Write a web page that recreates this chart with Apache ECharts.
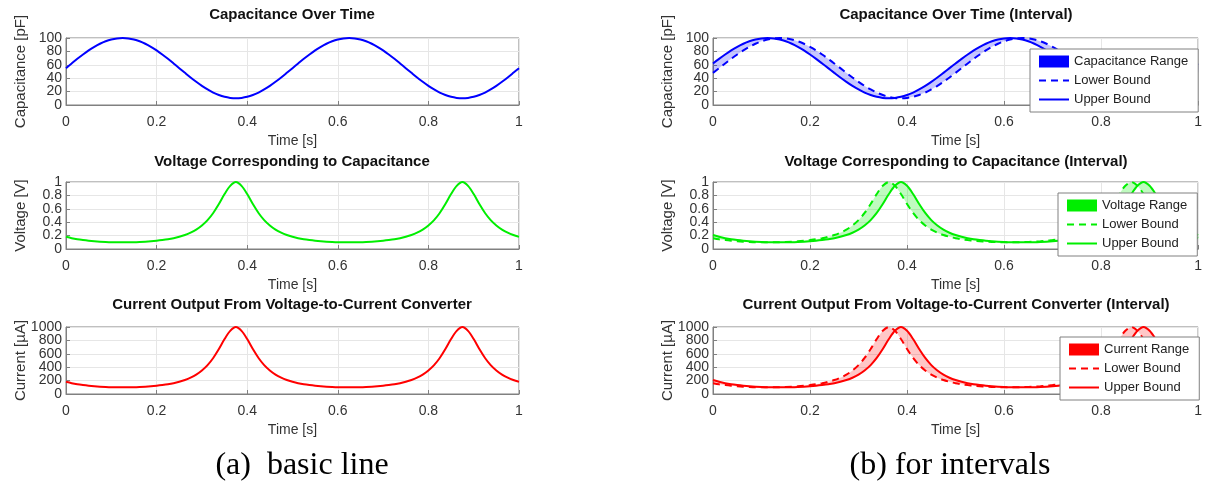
<!DOCTYPE html>
<html>
<head>
<meta charset="utf-8">
<title>Capacitance / Voltage / Current</title>
<script src="https://cdn.jsdelivr.net/npm/echarts@6/dist/echarts.min.js"></script>
<style>
  html, body { margin: 0; padding: 0; background: #fff; }
  #main { width: 1205px; height: 494px; }
</style>
</head>
<body>
<div id="main"></div>
<script>
// time samples [s]
var time = [0, 0.0125, 0.025, 0.0375, 0.05, 0.0625, 0.075, 0.0875, 0.1, 0.1125, 0.125, 0.1375, 0.15, 0.1625, 0.175, 0.1875, 0.2, 0.2125, 0.225, 0.2375,
  0.25, 0.2625, 0.275, 0.2875, 0.3, 0.3125, 0.325, 0.3375, 0.35, 0.3625, 0.375, 0.3875, 0.4, 0.4125, 0.425, 0.4375, 0.45, 0.4625, 0.475, 0.4875,
  0.5, 0.5125, 0.525, 0.5375, 0.55, 0.5625, 0.575, 0.5875, 0.6, 0.6125, 0.625, 0.6375, 0.65, 0.6625, 0.675, 0.6875, 0.7, 0.7125, 0.725, 0.7375,
  0.75, 0.7625, 0.775, 0.7875, 0.8, 0.8125, 0.825, 0.8375, 0.85, 0.8625, 0.875, 0.8875, 0.9, 0.9125, 0.925, 0.9375, 0.95, 0.9625, 0.975, 0.9875, 1];

// tick labels
var timeTicks = [0, 0.2, 0.4, 0.6, 0.8, 1];
var capTicks = [0, 20, 40, 60, 80, 100];
var voltTicks = [0, 0.2, 0.4, 0.6, 0.8, 1];
var currTicks = [0, 200, 400, 600, 800, 1000];

// (a) basic line
var capacitance = [55, 62.0, 68.9, 75.4, 81.5, 86.8, 91.4, 95.1, 97.8, 99.4, 100, 99.4, 97.8, 95.1, 91.4, 86.8, 81.5, 75.4, 68.9, 62.0, 55,
  48.0, 41.1, 34.6, 28.5, 23.2, 18.6, 14.9, 12.2, 10.6, 10, 10.6, 12.2, 14.9, 18.6, 23.2, 28.5, 34.6, 41.1, 48.0, 55,
  62.0, 68.9, 75.4, 81.5, 86.8, 91.4, 95.1, 97.8, 99.4, 100, 99.4, 97.8, 95.1, 91.4, 86.8, 81.5, 75.4, 68.9, 62.0, 55,
  48.0, 41.1, 34.6, 28.5, 23.2, 18.6, 14.9, 12.2, 10.6, 10, 10.6, 12.2, 14.9, 18.6, 23.2, 28.5, 34.6, 41.1, 48.0, 55];
var voltage = [0.182, 0.161, 0.145, 0.133, 0.123, 0.115, 0.109, 0.105, 0.102, 0.101, 0.100, 0.101, 0.102, 0.105, 0.109, 0.115, 0.123, 0.133, 0.145, 0.161, 0.182,
  0.208, 0.243, 0.289, 0.351, 0.431, 0.538, 0.671, 0.820, 0.943, 1.000, 0.943, 0.820, 0.671, 0.538, 0.431, 0.351, 0.289, 0.243, 0.208, 0.182,
  0.161, 0.145, 0.133, 0.123, 0.115, 0.109, 0.105, 0.102, 0.101, 0.100, 0.101, 0.102, 0.105, 0.109, 0.115, 0.123, 0.133, 0.145, 0.161, 0.182,
  0.208, 0.243, 0.289, 0.351, 0.431, 0.538, 0.671, 0.820, 0.943, 1.000, 0.943, 0.820, 0.671, 0.538, 0.431, 0.351, 0.289, 0.243, 0.208, 0.182];
var current = [182, 161, 145, 133, 123, 115, 109, 105, 102, 101, 100, 101, 102, 105, 109, 115, 123, 133, 145, 161, 182,
  208, 243, 289, 351, 431, 538, 671, 820, 943, 1000, 943, 820, 671, 538, 431, 351, 289, 243, 208, 182,
  161, 145, 133, 123, 115, 109, 105, 102, 101, 100, 101, 102, 105, 109, 115, 123, 133, 145, 161, 182,
  208, 243, 289, 351, 431, 538, 671, 820, 943, 1000, 943, 820, 671, 538, 431, 351, 289, 243, 208, 182];

// (b) interval bounds
var capLower = [48.0, 55, 62.0, 68.9, 75.4, 81.5, 86.8, 91.4, 95.1, 97.8, 99.4, 100, 99.4, 97.8, 95.1, 91.4, 86.8, 81.5, 75.4, 68.9, 62.0, 55,
  48.0, 41.1, 34.6, 28.5, 23.2, 18.6, 14.9, 12.2, 10.6, 10, 10.6, 12.2, 14.9, 18.6, 23.2, 28.5, 34.6, 41.1, 48.0, 55,
  62.0, 68.9, 75.4, 81.5, 86.8, 91.4, 95.1, 97.8, 99.4, 100, 99.4, 97.8, 95.1, 91.4, 86.8, 81.5, 75.4, 68.9, 62.0, 55,
  48.0, 41.1, 34.6, 28.5, 23.2, 18.6, 14.9, 12.2, 10.6, 10, 10.6, 12.2, 14.9, 18.6, 23.2, 28.5, 34.6, 41.1, 48.0];
var capUpper = [62.0, 68.9, 75.4, 81.5, 86.8, 91.4, 95.1, 97.8, 99.4, 100, 99.4, 97.8, 95.1, 91.4, 86.8, 81.5, 75.4, 68.9, 62.0, 55,
  48.0, 41.1, 34.6, 28.5, 23.2, 18.6, 14.9, 12.2, 10.6, 10, 10.6, 12.2, 14.9, 18.6, 23.2, 28.5, 34.6, 41.1, 48.0, 55,
  62.0, 68.9, 75.4, 81.5, 86.8, 91.4, 95.1, 97.8, 99.4, 100, 99.4, 97.8, 95.1, 91.4, 86.8, 81.5, 75.4, 68.9, 62.0, 55,
  48.0, 41.1, 34.6, 28.5, 23.2, 18.6, 14.9, 12.2, 10.6, 10, 10.6, 12.2, 14.9, 18.6, 23.2, 28.5, 34.6, 41.1, 48.0, 55, 62.0];
var voltLower = [0.161, 0.145, 0.133, 0.123, 0.115, 0.109, 0.105, 0.102, 0.101, 0.100, 0.101, 0.102, 0.105, 0.109, 0.115, 0.123, 0.133, 0.145, 0.161, 0.182,
  0.208, 0.243, 0.289, 0.351, 0.431, 0.538, 0.671, 0.820, 0.943, 1.000, 0.943, 0.820, 0.671, 0.538, 0.431, 0.351, 0.289, 0.243, 0.208, 0.182,
  0.161, 0.145, 0.133, 0.123, 0.115, 0.109, 0.105, 0.102, 0.101, 0.100, 0.101, 0.102, 0.105, 0.109, 0.115, 0.123, 0.133, 0.145, 0.161, 0.182,
  0.208, 0.243, 0.289, 0.351, 0.431, 0.538, 0.671, 0.820, 0.943, 1.000, 0.943, 0.820, 0.671, 0.538, 0.431, 0.351, 0.289, 0.243, 0.208, 0.182, 0.161];
var voltUpper = [0.208, 0.182, 0.161, 0.145, 0.133, 0.123, 0.115, 0.109, 0.105, 0.102, 0.101, 0.100, 0.101, 0.102, 0.105, 0.109, 0.115, 0.123, 0.133, 0.145, 0.161, 0.182,
  0.208, 0.243, 0.289, 0.351, 0.431, 0.538, 0.671, 0.820, 0.943, 1.000, 0.943, 0.820, 0.671, 0.538, 0.431, 0.351, 0.289, 0.243, 0.208, 0.182,
  0.161, 0.145, 0.133, 0.123, 0.115, 0.109, 0.105, 0.102, 0.101, 0.100, 0.101, 0.102, 0.105, 0.109, 0.115, 0.123, 0.133, 0.145, 0.161, 0.182,
  0.208, 0.243, 0.289, 0.351, 0.431, 0.538, 0.671, 0.820, 0.943, 1.000, 0.943, 0.820, 0.671, 0.538, 0.431, 0.351, 0.289, 0.243, 0.208];
var currLower = [161, 145, 133, 123, 115, 109, 105, 102, 101, 100, 101, 102, 105, 109, 115, 123, 133, 145, 161, 182,
  208, 243, 289, 351, 431, 538, 671, 820, 943, 1000, 943, 820, 671, 538, 431, 351, 289, 243, 208, 182,
  161, 145, 133, 123, 115, 109, 105, 102, 101, 100, 101, 102, 105, 109, 115, 123, 133, 145, 161, 182,
  208, 243, 289, 351, 431, 538, 671, 820, 943, 1000, 943, 820, 671, 538, 431, 351, 289, 243, 208, 182, 161];
var currUpper = [208, 182, 161, 145, 133, 123, 115, 109, 105, 102, 101, 100, 101, 102, 105, 109, 115, 123, 133, 145, 161, 182,
  208, 243, 289, 351, 431, 538, 671, 820, 943, 1000, 943, 820, 671, 538, 431, 351, 289, 243, 208, 182,
  161, 145, 133, 123, 115, 109, 105, 102, 101, 100, 101, 102, 105, 109, 115, 123, 133, 145, 161, 182,
  208, 243, 289, 351, 431, 538, 671, 820, 943, 1000, 943, 820, 671, 538, 431, 351, 289, 243, 208];

var BLUE = '#0000ff', GREEN = '#00ee00', RED = '#ff0000';
var FONT = 'Liberation Sans, Arial, sans-serif';

// panel geometry
var cols = [{ left: 66, width: 453 }, { left: 713, width: 487 }];
var rows = [38, 182, 327];
var rowH = 67;

var panels = [
  { yName: 'Capacitance [pF]', ticks: capTicks },
  { yName: 'Voltage [V]', ticks: voltTicks },
  { yName: 'Current [\u00b5A]', ticks: currTicks }
];

function pairs(ys) {
  return time.map(function (t, i) { return [t, ys[i]]; });
}
function plain(v) { return String(+(+v).toFixed(6)); }
function pick(arr, odd) { return arr.filter(function (v, i) { return i % 2 === (odd ? 1 : 0); }); }

var labelStyle = { fontFamily: FONT, fontSize: 14, color: '#333' };
var grids = [], xAxes = [], yAxes = [], yLabelAxes = [];
cols.forEach(function (c) {
  rows.forEach(function (top, r) {
    var gi = grids.length;
    var p = panels[r];
    var tk = p.ticks, max = tk[tk.length - 1], step = tk[1] - tk[0];
    grids.push({ left: c.left, width: c.width, top: top, height: rowH,
      show: true, borderColor: '#808080', borderWidth: 1, backgroundColor: '#fff' });
    xAxes.push({
      type: 'value', gridIndex: gi, min: 0, max: 1, interval: 0.2,
      name: 'Time [s]', nameLocation: 'middle', nameGap: 29,
      nameTextStyle: { fontFamily: FONT, fontSize: 14, color: '#333' },
      axisLine: { lineStyle: { color: '#808080' } },
      axisTick: { inside: true, length: 4, lineStyle: { color: '#808080' } },
      axisLabel: Object.assign({ margin: 10, formatter: plain, customValues: timeTicks,
        showMinLabel: true, showMaxLabel: true }, labelStyle),
      splitLine: { show: true, lineStyle: { color: '#e6e6e6' } }
    });
    // main axis: line, ticks, grid lines, every other label
    yAxes.push({
      type: 'value', gridIndex: gi, min: 0, max: max, interval: step,
      name: p.yName, nameLocation: 'middle', nameGap: 38,
      nameTextStyle: { fontFamily: FONT, fontSize: 15, color: '#333' },
      axisLine: { show: true, lineStyle: { color: '#808080' } },
      axisTick: { show: true, inside: true, length: 4, lineStyle: { color: '#808080' } },
      axisLabel: Object.assign({ margin: 4, formatter: plain, customValues: pick(tk, false),
        showMinLabel: true, showMaxLabel: true }, labelStyle),
      splitLine: { show: true, lineStyle: { color: '#e6e6e6' } }
    });
    // twin axis carrying the remaining labels (they sit too close for one axis)
    yLabelAxes.push({
      type: 'value', gridIndex: gi, min: 0, max: max, interval: step, position: 'left',
      axisLine: { show: false }, axisTick: { show: false }, splitLine: { show: false },
      axisLabel: Object.assign({ margin: 4, formatter: plain, customValues: pick(tk, true),
        showMinLabel: true, showMaxLabel: true }, labelStyle)
    });
  });
});
yAxes = yAxes.concat(yLabelAxes);

function lineSeries(name, gi, ys, color, dashed) {
  return {
    name: name, type: 'line', xAxisIndex: gi, yAxisIndex: gi,
    data: pairs(ys), symbol: 'none', smooth: 0.3, z: 3,
    color: color,
    lineStyle: { color: color, width: 2, type: dashed ? [7, 5] : 'solid' },
    emphasis: { disabled: true }
  };
}

// shaded band between the two bounds, drawn through the axis scales
function bandSeries(name, gi, lo, hi, color, fill) {
  return {
    name: name, type: 'custom', xAxisIndex: gi, yAxisIndex: gi,
    data: [[0, 0]], z: 2, color: color, itemStyle: { color: color },
    renderItem: function (params, api) {
      var pts = [];
      for (var i = 0; i < time.length; i++) pts.push(api.coord([time[i], hi[i]]));
      for (var j = time.length - 1; j >= 0; j--) pts.push(api.coord([time[j], lo[j]]));
      return { type: 'polygon', shape: { points: pts, smooth: 0.2 }, style: { fill: fill, stroke: null } };
    },
    emphasis: { disabled: true }
  };
}

var series = [
  lineSeries('Capacitance', 0, capacitance, BLUE, false),
  lineSeries('Voltage', 1, voltage, GREEN, false),
  lineSeries('Current', 2, current, RED, false),

  bandSeries('Capacitance Range', 3, capLower, capUpper, BLUE, 'rgba(0,0,255,0.22)'),
  lineSeries('Lower Bound', 3, capLower, BLUE, true),
  lineSeries('Upper Bound', 3, capUpper, BLUE, false),

  bandSeries('Voltage Range', 4, voltLower, voltUpper, GREEN, 'rgba(0,238,0,0.25)'),
  lineSeries('Lower Bound ', 4, voltLower, GREEN, true),
  lineSeries('Upper Bound ', 4, voltUpper, GREEN, false),

  bandSeries('Current Range', 5, currLower, currUpper, RED, 'rgba(255,0,0,0.22)'),
  lineSeries('Lower Bound  ', 5, currLower, RED, true),
  lineSeries('Upper Bound  ', 5, currUpper, RED, false)
];

function legendFor(rangeName, sfx, color, left, top) {
  return {
    orient: 'vertical', left: left, top: top, selectedMode: false,
    backgroundColor: '#fff', borderColor: '#808080', borderWidth: 1, borderRadius: 0,
    padding: [6, 10, 6, 8], itemGap: 6, itemWidth: 30, itemHeight: 12,
    textStyle: { fontFamily: FONT, fontSize: 13, color: '#222' },
    formatter: function (n) { return n.trim(); },
    data: [
      { name: rangeName, icon: 'rect', itemStyle: { color: color, opacity: 1 } },
      { name: 'Lower Bound' + sfx, itemStyle: { opacity: 0 } },
      { name: 'Upper Bound' + sfx, itemStyle: { opacity: 0 } }
    ],
    z: 10
  };
}

var titles = [
  ['Capacitance Over Time', 292, 15],
  ['Voltage Corresponding to Capacitance', 292, 162],
  ['Current Output From Voltage-to-Current Converter', 292, 305],
  ['Capacitance Over Time (Interval)', 956, 15],
  ['Voltage Corresponding to Capacitance (Interval)', 956, 162],
  ['Current Output From Voltage-to-Current Converter (Interval)', 956, 305]
];
var captions = [
  ['(a)  basic line', 302, 466],
  ['(b) for intervals', 950, 466]
];

var graphics = titles.map(function (t) {
  return { type: 'text', x: t[1], y: t[2], silent: true,
    style: { text: t[0], fill: '#111', font: 'bold 15px ' + FONT, textAlign: 'center', textVerticalAlign: 'middle' } };
}).concat(captions.map(function (t) {
  return { type: 'text', x: t[1], y: t[2], silent: true,
    style: { text: t[0], fill: '#000', font: '32px Liberation Serif, Times New Roman, serif', textAlign: 'center', textVerticalAlign: 'middle' } };
}));

var chart = echarts.init(document.getElementById('main'));
chart.setOption({
  animation: false,
  grid: grids,
  xAxis: xAxes,
  yAxis: yAxes,
  legend: [
    legendFor('Capacitance Range', '', BLUE, 1030, 49),
    legendFor('Voltage Range', ' ', GREEN, 1058, 193),
    legendFor('Current Range', '  ', RED, 1060, 337)
  ],
  graphic: graphics,
  series: series
});
</script>
</body>
</html>
